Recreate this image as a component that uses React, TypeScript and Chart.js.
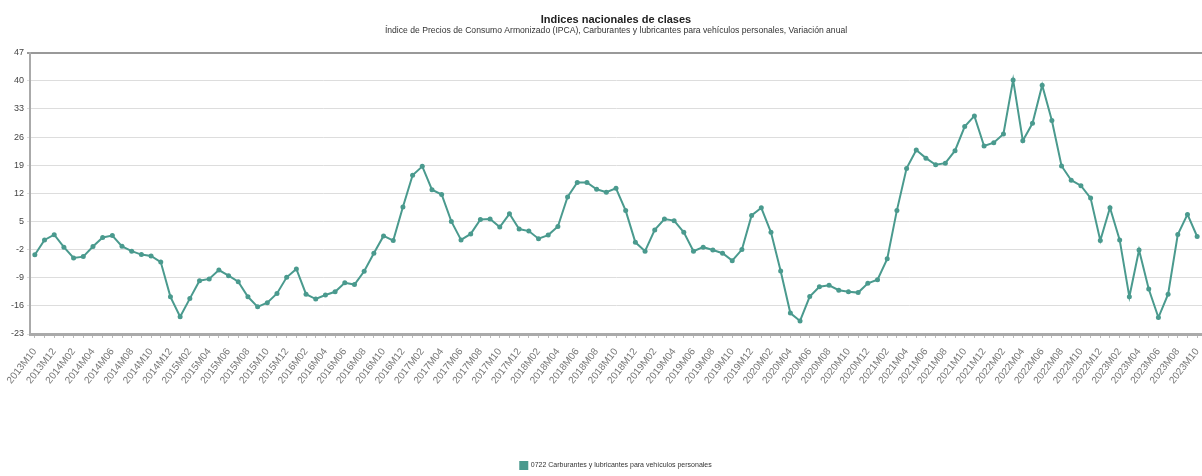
import React, { useEffect, useRef } from "react";
import { Chart, registerables } from "chart.js";

Chart.register(...registerables);

const TITLE = "Indices nacionales de clases";
const SUBTITLE =
  "Índice de Precios de Consumo Armonizado (IPCA), Carburantes y lubricantes para vehículos personales, Variación anual";
const SERIES_LABEL = "0722 Carburantes y lubricantes para vehículos personales";

const START_YEAR = 2013;
const START_MONTH = 10;
const END_YEAR = 2023;
const END_MONTH = 10;

const months: string[] = [];
for (let y = START_YEAR, m = START_MONTH; y < END_YEAR || (y === END_YEAR && m <= END_MONTH); ) {
  months.push(`${y}M${m < 10 ? "0" + m : m}`);
  m++;
  if (m > 12) {
    m = 1;
    y++;
  }
}

const values: number[] = [
  -3.3, 0.4, 1.7, -1.4, -4.1, -3.75, -1.25, 1.0, 1.5, -1.2,
  -2.4, -3.25, -3.6, -5.1, -13.75, -18.7, -14.2, -9.75, -9.3, -7.1,
  -8.5, -10, -13.75, -16.25, -15.2, -12.9, -8.9, -6.8, -13.1, -14.3,
  -13.3, -12.5, -10.25, -10.7, -7.4, -2.9, 1.4, 0.25, 8.6, 16.5,
  18.7, 12.9, 11.7, 5, 0.4, 1.9, 5.5, 5.6, 3.6, 6.9,
  3.1, 2.6, 0.7, 1.6, 3.75, 11.1, 14.7, 14.7, 13, 12.25,
  13.25, 7.7, -0.2, -2.4, 2.9, 5.6, 5.2, 2.3, -2.4, -1.4,
  -2.1, -2.9, -4.75, -2, 6.5, 8.4, 2.3, -7.3, -17.8, -19.75,
  -13.7, -11.25, -10.9, -12.1, -12.5, -12.7, -10.4, -9.5, -4.3, 7.75,
  18.2, 22.75, 20.75, 19.1, 19.5, 22.6, 28.6, 31.25, 23.75, 24.6,
  26.75, 40.2, 25.1, 29.4, 38.9, 30.1, 18.8, 15.25, 13.9, 10.8,
  0.25, 8.4, 0.4, -13.75, -2.1, -11.8, -18.9, -13.1, 1.75, 6.75,
  1.25,
];

const Y_MIN = -23;
const Y_MAX = 47;
const Y_STEP = 7;

const FONT = "'Liberation Sans', Arial, sans-serif";
const LINE_COLOR = "#4a9a8e";

export default function App() {
  const canvasRef = useRef<HTMLCanvasElement | null>(null);

  useEffect(() => {
    document.body.style.margin = "0";
    const canvas = canvasRef.current;
    if (!canvas) return;
    const chart = new Chart(canvas, {
      type: "line",
      data: {
        labels: months,
        datasets: [
          {
            label: SERIES_LABEL,
            data: values,
            borderColor: LINE_COLOR,
            backgroundColor: LINE_COLOR,
            borderWidth: 2,
            pointRadius: 2.5,
            pointBorderWidth: 0,
            pointBackgroundColor: LINE_COLOR,
            tension: 0,
          },
        ],
      },
      options: {
        responsive: false,
        animation: false,
        layout: { autoPadding: false, padding: { left: 0, right: 0, top: 0, bottom: -3 } },
        plugins: {
          title: {
            display: true,
            text: TITLE,
            fullSize: false,
            color: "#222",
            font: { family: FONT, size: 11, weight: "bold", lineHeight: 1 },
            padding: { top: 14, bottom: 0 },
          },
          subtitle: {
            display: true,
            text: SUBTITLE,
            fullSize: false,
            color: "#333",
            font: { family: FONT, size: 8.6, lineHeight: 1 },
            padding: { top: 1, bottom: 18 },
          },
          legend: {
            position: "bottom",
            fullSize: false,
            labels: {
              boxWidth: 7,
              boxHeight: 7,
              padding: 4,
              color: "#333",
              font: { family: FONT, size: 7 },
            },
          },
          tooltip: { enabled: false },
        },
        scales: {
          x: {
            type: "category",
            offset: true,
            grid: {
              display: true,
              drawOnChartArea: false,
              drawTicks: true,
              tickLength: 4,
              color: "#bbb",
            },
            border: { display: true, color: "#aaa", width: 3 },
            ticks: {
              autoSkip: false,
              minRotation: 52,
              maxRotation: 52,
              padding: 8,
              color: "#777",
              font: { family: FONT, size: 10 },
              callback: (_v: any, i: number) => (i % 2 === 0 ? months[i] : ""),
            },
            afterFit: (s: any) => {
              s.height = 124;
              s.paddingRight = 0;
              s.paddingLeft = 0;
            },
          },
          y: {
            min: Y_MIN,
            max: Y_MAX,
            ticks: {
              stepSize: Y_STEP,
              color: "#444",
              padding: 3,
              font: { family: FONT, size: 9 },
            },
            grid: {
              drawTicks: true,
              tickLength: 3,
              color: (ctx: any) =>
                ctx.tick && ctx.tick.value === 0
                  ? "#777"
                  : ctx.tick && ctx.tick.value === Y_MAX
                  ? "#999"
                  : "#ddd",
              lineWidth: (ctx: any) =>
                ctx.tick && (ctx.tick.value === 0 || ctx.tick.value === Y_MAX) ? 2 : 1,
            },
            border: { display: true, color: "#aaa", width: 2 },
            afterFit: (s: any) => {
              s.width = 30;
            },
          },
        },
      },
    });
    return () => chart.destroy();
  }, []);

  return (
    <div style={{ width: 1202, height: 476 }}>
      <canvas ref={canvasRef} width={1202} height={476} />
    </div>
  );
}
